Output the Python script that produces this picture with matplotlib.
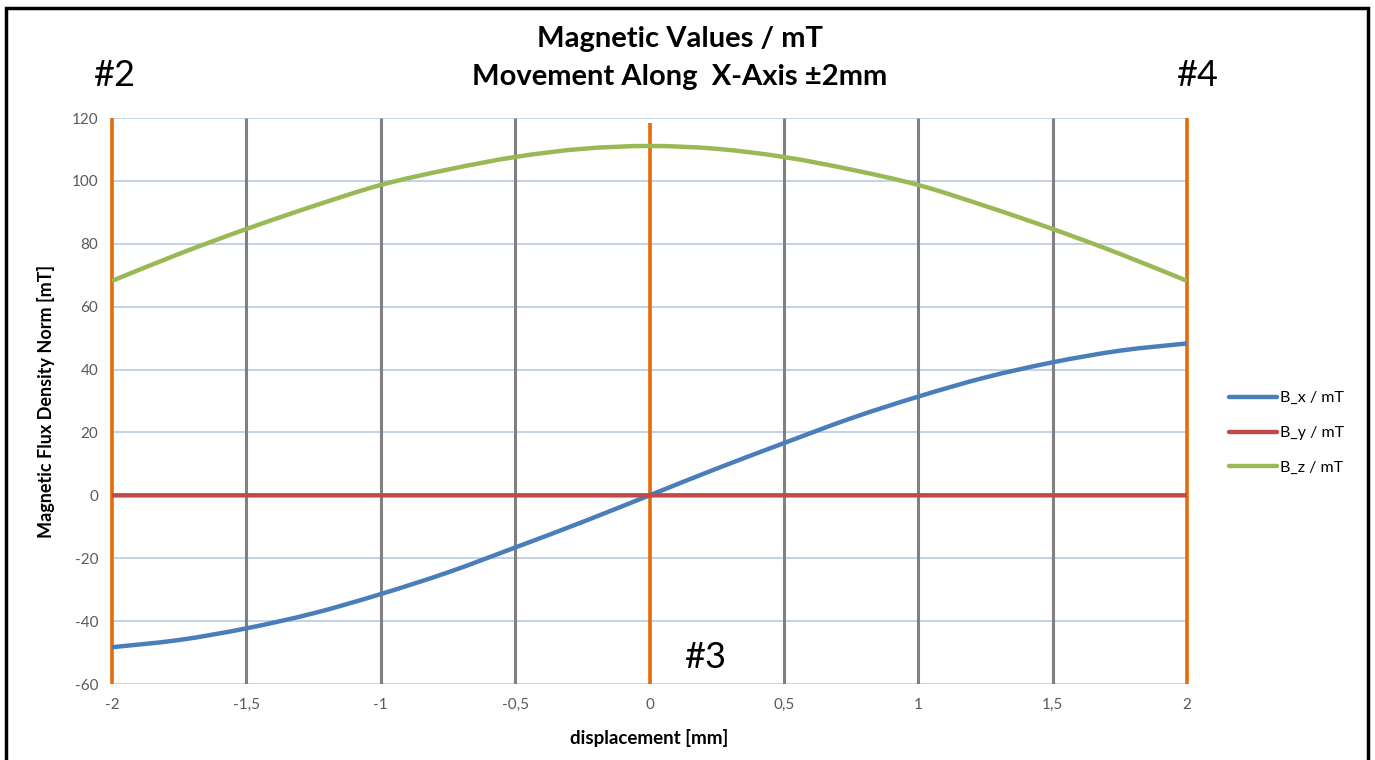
import matplotlib
import matplotlib.pyplot as plt
from matplotlib.lines import Line2D
from matplotlib.patches import PathPatch, Rectangle
from matplotlib.path import Path

matplotlib.use("Agg")

plt.rcParams['font.family'] = ['Lato', 'DejaVu Sans']
plt.rcParams['axes.unicode_minus'] = False

# data
displacement = [-2, -1.75, -1.5, -1.25, -1, -0.75, -0.5, -0.25, 0,
                0.25, 0.5, 0.75, 1, 1.25, 1.5, 1.75, 2]
b_x = [-48.3, -46.0, -42.3, -37.5, -31.4, -24.5, -16.6, -8.5, 0,
       8.5, 16.6, 24.5, 31.4, 37.5, 42.3, 46.0, 48.3]
b_y = [0] * len(displacement)
b_z = [68.2, 76.8, 84.7, 92.0, 98.7, 103.6, 107.6, 110.2, 111.1,
       110.2, 107.6, 103.6, 98.7, 92.0, 84.7, 76.8, 68.2]

x_ticks = [-2, -1.5, -1, -0.5, 0, 0.5, 1, 1.5, 2]
x_ticklabels = ["-2", "-1,5", "-1", "-0,5", "0", "0,5", "1", "1,5", "2"]
y_ticks = [-60, -40, -20, 0, 20, 40, 60, 80, 100, 120]
gray_lines = [-1.5, -1, -0.5, 0.5, 1, 1.5]
orange_lines = [-2, 0, 2]

series = [("B_x / mT", b_x, "#4a7ebb"),
          ("B_y / mT", b_y, "#be4b48"),
          ("B_z / mT", b_z, "#98b954")]


def smooth_path(xs, ys):
    # Catmull-Rom style bezier, like Excel "smoothed line"
    pts = list(zip(xs, ys))
    verts = [pts[0]]
    codes = [Path.MOVETO]
    n = len(pts)
    for i in range(n - 1):
        p0 = pts[max(i - 1, 0)]
        p1 = pts[i]
        p2 = pts[i + 1]
        p3 = pts[min(i + 2, n - 1)]
        c1 = (p1[0] + (p2[0] - p0[0]) / 6, p1[1] + (p2[1] - p0[1]) / 6)
        c2 = (p2[0] - (p3[0] - p1[0]) / 6, p2[1] - (p3[1] - p1[1]) / 6)
        verts += [c1, c2, p2]
        codes += [Path.CURVE4] * 3
    return Path(verts, codes)


fig = plt.figure(figsize=(13.75, 7.6), dpi=100)
ax = fig.add_axes([112 / 1375, 1 - 684 / 760, 1075 / 1375, 566 / 760])

ax.set_xlim(-2, 2)
ax.set_ylim(-60, 120)
for s in ax.spines.values():
    s.set_visible(False)
ax.set_yticks(y_ticks)
ax.set_xticks(x_ticks)
ax.set_xticklabels(x_ticklabels)
ax.tick_params(length=0, colors="#595959", labelsize=11, pad=10)
ax.yaxis.grid(True, color="#b9cbe6", linewidth=1.2)
ax.set_axisbelow(True)

ax.vlines(gray_lines, -60, 120, color="#808080", linewidth=2.2, zorder=2)
ax.vlines([-2, 2], -60, 120, color="#e46c0a", linewidth=2.6, zorder=2,
          clip_on=False)
ax.vlines([0], -60, 118.5, color="#e46c0a", linewidth=2.6, zorder=2)

handles = []
for name, vals, col in series:
    ax.add_patch(PathPatch(smooth_path(displacement, vals), fill=False,
                           edgecolor=col, linewidth=3.2, zorder=3,
                           capstyle="butt"))
    handles.append(Line2D([], [], color=col, linewidth=3.2,
                          solid_capstyle="round"))

ax.set_xlabel("displacement [mm]", fontsize=13.5, fontweight="bold",
              labelpad=12)
ax.set_ylabel("Magnetic Flux Density Norm [mT]", fontsize=13,
              fontweight="bold", labelpad=12)

fig.legend(handles, [s[0] for s in series], loc="center left",
           bbox_to_anchor=(1215 / 1375, 1 - 433 / 760), frameon=False,
           fontsize=11.5, handlelength=3.0, handletextpad=0.2,
           labelspacing=1.3)

fig.text(680 / 1375, 1 - 39 / 760, "Magnetic Values / mT", ha="center",
         va="center", fontsize=21, fontweight="bold")
fig.text(680 / 1375, 1 - 77 / 760, "Movement Along  X-Axis \u00b12mm",
         ha="center", va="center", fontsize=21, fontweight="bold")
fig.text(114 / 1375, 1 - 75 / 760, "#2", ha="center", va="center",
         fontsize=26)
fig.text(1197 / 1375, 1 - 75 / 760, "#4", ha="center", va="center",
         fontsize=26)
fig.text(705 / 1375, 1 - 658 / 760, "#3", ha="center", va="center",
         fontsize=26)

fig.patches.append(Rectangle((6 / 1375, -0.05), 1362 / 1375, 1.05 - 8 / 760,
                             transform=fig.transFigure, fill=False,
                             edgecolor="black", linewidth=2.5))

fig.savefig("out.png", dpi=100)
